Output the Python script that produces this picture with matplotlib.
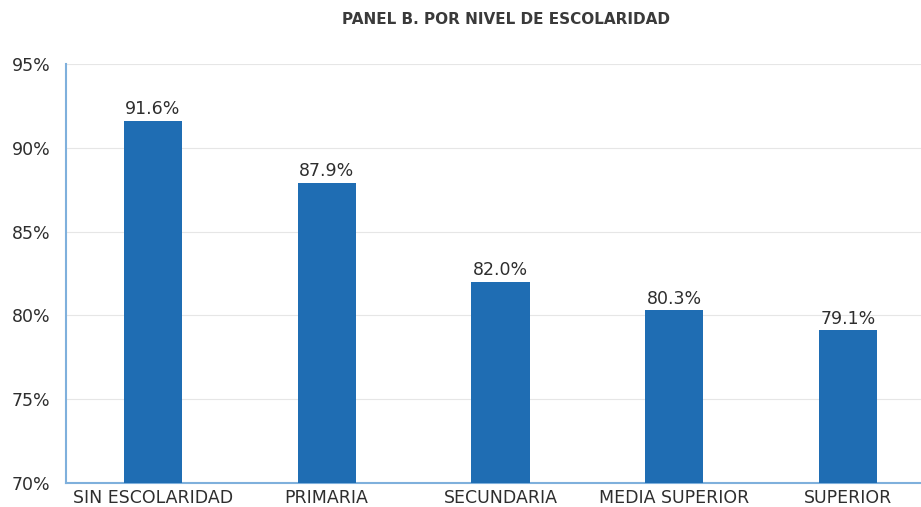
import matplotlib
matplotlib.use("Agg")
import matplotlib.pyplot as plt
from matplotlib.ticker import FuncFormatter

categories = ["SIN ESCOLARIDAD", "PRIMARIA", "SECUNDARIA", "MEDIA SUPERIOR", "SUPERIOR"]
values = [91.6, 87.9, 82.0, 80.3, 79.1]
title = "PANEL B. POR NIVEL DE ESCOLARIDAD"

plt.rcParams['font.family'] = ['DejaVu Sans']

W, H = 921, 507
fig = plt.figure(figsize=(W/100, H/100), dpi=100)
left, right, top, bottom = 66, 921, 64, 483
ax = fig.add_axes([left/W, 1-bottom/H, (right-left)/W, (bottom-top)/H])

x = list(range(len(categories)))
ax.bar(x, values, width=0.335, color="#1f6db3", zorder=3, bottom=0)
ax.set_ylim(70, 95)
ax.set_xlim(-0.5, 4.42)
ax.set_yticks([70, 75, 80, 85, 90, 95])
ax.yaxis.set_major_formatter(FuncFormatter(lambda v, p: f"{v:.0f}%"))
ax.set_xticks(x)
ax.set_xticklabels(categories)
ax.grid(axis='y', color="#e6e6e6", linewidth=0.8, zorder=0)
for s in ["top", "right"]:
    ax.spines[s].set_visible(False)
for s in ["left", "bottom"]:
    ax.spines[s].set_color("#7fb0dc")
    ax.spines[s].set_linewidth(1.5)
ax.tick_params(axis='both', length=0, labelsize=12.5, colors="#2e2e2e")
ax.tick_params(axis='y', pad=11)
ax.tick_params(axis='x', pad=4)

for xi, v in zip(x, values):
    ax.text(xi, v + 0.15, f"{v:.1f}%", ha='center', va='bottom', fontsize=12.5, color="#2e2e2e", zorder=4)

fig.text(506/W, 1-20/H, title, ha='center', va='center', fontsize=11, fontweight='bold', color="#3a3a3a")

fig.savefig("out.png", dpi=100)
